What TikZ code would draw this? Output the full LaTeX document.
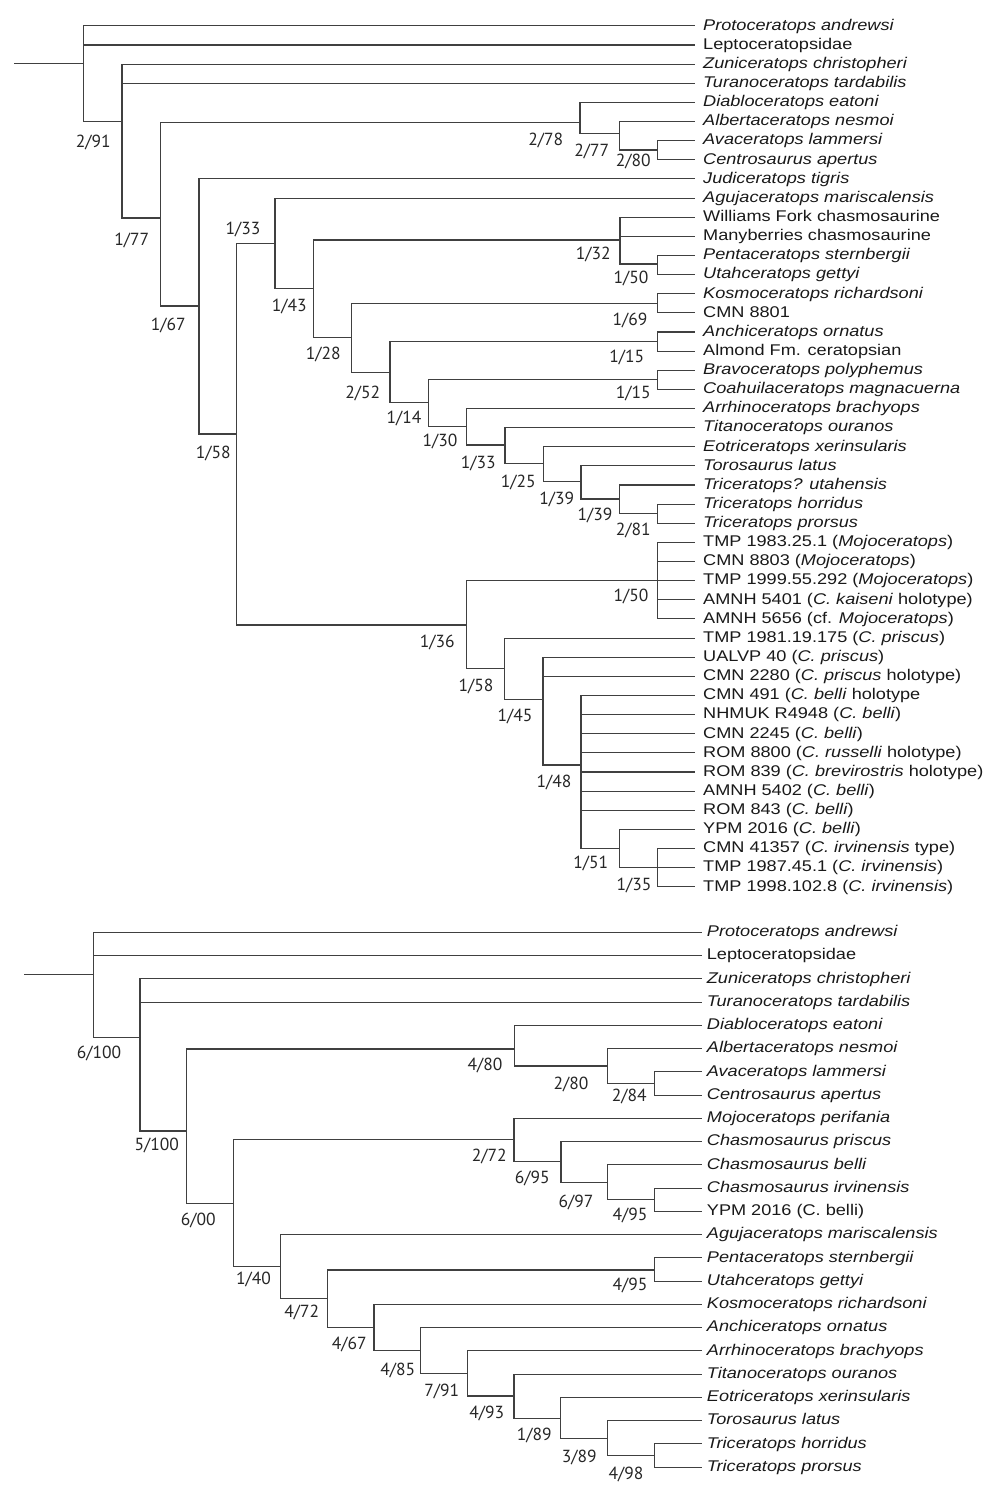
\documentclass[tikz,border=0pt]{standalone}
\usepackage{fontspec}
\newfontfamily\leaffont[FakeStretch=1.17]{Liberation Sans}
\newfontfamily\labfont{PT Sans}
\begin{document}
\begin{tikzpicture}[x=1pt,y=-1pt,
  br/.style={draw=black!75, line width=1.1pt},
  leafA/.style={anchor=west, inner xsep=8pt, inner ysep=0pt, text height=11pt, text depth=2.4pt, text=black!90, font=\leaffont\fontsize{15.5}{18}\selectfont},
  leafB/.style={leafA, inner xsep=5pt},
  sup/.style={inner sep=0pt, text=black!85, font=\labfont\fontsize{17.5}{19}\selectfont}]
\useasboundingbox (0,0) rectangle (1000,1498);

% ---------------- Tree 1 ----------------
\foreach \i/\txt in {
 1/{\textit{Protoceratops andrewsi}}, 2/{Leptoceratopsidae}, 3/{\textit{Zuniceratops christopheri}},
 4/{\textit{Turanoceratops tardabilis}}, 5/{\textit{Diabloceratops eatoni}}, 6/{\textit{Albertaceratops nesmoi}},
 7/{\textit{Avaceratops lammersi}}, 8/{\textit{Centrosaurus apertus}}, 9/{\textit{Judiceratops tigris}},
 10/{\textit{Agujaceratops mariscalensis}}, 11/{Williams Fork chasmosaurine}, 12/{Manyberries chasmosaurine},
 13/{\textit{Pentaceratops sternbergii}}, 14/{\textit{Utahceratops gettyi}}, 15/{\textit{Kosmoceratops richardsoni}},
 16/{CMN 8801}, 17/{\textit{Anchiceratops ornatus}}, 18/{Almond Fm. ceratopsian},
 19/{\textit{Bravoceratops polyphemus}}, 20/{\textit{Coahuilaceratops magnacuerna}}, 21/{\textit{Arrhinoceratops brachyops}},
 22/{\textit{Titanoceratops ouranos}}, 23/{\textit{Eotriceratops xerinsularis}}, 24/{\textit{Torosaurus latus}},
 25/{\textit{Triceratops? utahensis}}, 26/{\textit{Triceratops horridus}}, 27/{\textit{Triceratops prorsus}},
 28/{TMP 1983.25.1 (\textit{Mojoceratops})}, 29/{CMN 8803 (\textit{Mojoceratops})}, 30/{TMP 1999.55.292 (\textit{Mojoceratops})},
 31/{AMNH 5401 (\textit{C. kaiseni} holotype)}, 32/{AMNH 5656 (cf. \textit{Mojoceratops})}, 33/{TMP 1981.19.175 (\textit{C. priscus})},
 34/{UALVP 40 (\textit{C. priscus})}, 35/{CMN 2280 (\textit{C. priscus} holotype)}, 36/{CMN 491 (\textit{C. belli} holotype},
 37/{NHMUK R4948 (\textit{C. belli})}, 38/{CMN 2245 (\textit{C. belli})}, 39/{ROM 8800 (\textit{C. russelli} holotype)},
 40/{ROM 839 (\textit{C. brevirostris} holotype)}, 41/{AMNH 5402 (\textit{C. belli})}, 42/{ROM 843 (\textit{C. belli})},
 43/{YPM 2016 (\textit{C. belli})}, 44/{CMN 41357 (\textit{C. irvinensis} type)}, 45/{TMP 1987.45.1 (\textit{C. irvinensis})},
 46/{TMP 1998.102.8 (\textit{C. irvinensis})}}
  \node[leafA] (a\i) at (695,{25.9+19.13*(\i-1)}) {\txt};

\coordinate (s1) at (14,63.5);
\coordinate (r1) at (83.3,63.5);
\coordinate (n2) at (122,121.7);
\coordinate (n3) at (160.7,218);
\coordinate (n4) at (580,122.3);
\coordinate (n4b) at (619.3,133.3);
\coordinate (n4c) at (657.7,150);
\coordinate (n5) at (199,306);
\coordinate (n6) at (236.7,434);
\coordinate (n7) at (275,243.3);
\coordinate (n8) at (313.3,288.3);
\coordinate (n9) at (620,240);
\coordinate (n9b) at (657.7,264);
\coordinate (n10) at (351.7,337.3);
\coordinate (n11) at (657.7,303.3);
\coordinate (n12) at (390,372.3);
\coordinate (n13) at (657.7,341.7);
\coordinate (n14) at (428.3,402.7);
\coordinate (n15) at (657.7,379.3);
\coordinate (n16) at (466.7,426.7);
\coordinate (n17) at (505,445);
\coordinate (n18) at (543.3,463.3);
\coordinate (n19) at (581,481.7);
\coordinate (n20) at (619.3,499);
\coordinate (n21) at (657.7,513.3);
\coordinate (c1) at (466.7,625);
\coordinate (c2) at (657.7,580.7);
\coordinate (c3) at (504.3,668.3);
\coordinate (c4) at (543,699.3);
\coordinate (c5) at (581,765);
\coordinate (c6) at (619.3,848.3);
\coordinate (c7) at (657.7,867.7);

\draw[br] (s1) -- (r1);
\foreach \p/\c in {r1/n2, n2/n3, n3/n4, n4/n4b, n4b/n4c, n3/n5, n5/n6, n6/n7, n7/n8, n8/n9, n9/n9b,
  n8/n10, n10/n11, n10/n12, n12/n13, n12/n14, n14/n15, n14/n16, n16/n17, n17/n18, n18/n19, n19/n20,
  n20/n21, n6/c1, c1/c2, c1/c3, c3/c4, c4/c5, c5/c6, c6/c7}
  \draw[br] (\p) |- (\c);
\foreach \p/\c in {r1/1, r1/2, n2/3, n2/4, n4/5, n4b/6, n4c/7, n4c/8, n5/9, n7/10, n9/11, n9/12,
  n9b/13, n9b/14, n11/15, n11/16, n13/17, n13/18, n15/19, n15/20, n16/21, n17/22, n18/23, n19/24,
  n20/25, n21/26, n21/27, c2/28, c2/29, c2/30, c2/31, c2/32, c3/33, c4/34, c4/35, c5/36, c5/37,
  c5/38, c5/39, c5/40, c5/41, c5/42, c6/43, c7/44, c7/45, c7/46}
  \draw[br] (\p) |- (a\c.west);

\node[sup] (l-n2) at (93.3,142) {2/91};
\node[sup] (l-n3) at (131.7,240) {1/77};
\node[sup] (l-n5) at (168.3,325) {1/67};
\node[sup] (l-n6) at (213.3,453) {1/58};
\node[sup] (l-n7) at (243,229) {1/33};
\node[sup] (l-n8) at (289.3,306) {1/43};
\node[sup] (l-n10) at (323.3,354.3) {1/28};
\node[sup] (l-n12) at (362.7,393.3) {2/52};
\node[sup] (l-n14) at (404,418.3) {1/14};
\node[sup] (l-n16) at (440,441.7) {1/30};
\node[sup] (l-n17) at (478.3,463.3) {1/33};
\node[sup] (l-n18) at (518.3,482.7) {1/25};
\node[sup] (l-n19) at (556.7,499.3) {1/39};
\node[sup] (l-n20) at (595,515) {1/39};
\node[sup] (l-n21) at (633.3,530) {2/81};
\node[sup] (l-n4) at (545.7,140) {2/78};
\node[sup] (l-n4b) at (591.7,151.7) {2/77};
\node[sup] (l-n4c) at (633.3,161.7) {2/80};
\node[sup] (l-n9) at (593.3,254) {1/32};
\node[sup] (l-n9b) at (631,278.3) {1/50};
\node[sup] (l-n11) at (630,320) {1/69};
\node[sup] (l-n13) at (626.7,357.7) {1/15};
\node[sup] (l-n15) at (633.3,393.3) {1/15};
\node[sup] (l-c1) at (437.3,642.7) {1/36};
\node[sup] (l-c2) at (631,596) {1/50};
\node[sup] (l-c3) at (476,686.7) {1/58};
\node[sup] (l-c4) at (515,716.7) {1/45};
\node[sup] (l-c5) at (554,782.7) {1/48};
\node[sup] (l-c6) at (590.7,863.3) {1/51};
\node[sup] (l-c7) at (634,885) {1/35};

% ---------------- Tree 2 ----------------
\foreach \i/\txt in {
 1/{\textit{Protoceratops andrewsi}}, 2/{Leptoceratopsidae}, 3/{\textit{Zuniceratops christopheri}},
 4/{\textit{Turanoceratops tardabilis}}, 5/{\textit{Diabloceratops eatoni}}, 6/{\textit{Albertaceratops nesmoi}},
 7/{\textit{Avaceratops lammersi}}, 8/{\textit{Centrosaurus apertus}}, 9/{\textit{Mojoceratops perifania}},
 10/{\textit{Chasmosaurus priscus}}, 11/{\textit{Chasmosaurus belli}}, 12/{\textit{Chasmosaurus irvinensis}},
 13/{YPM 2016 (C. belli)}, 14/{\textit{Agujaceratops mariscalensis}}, 15/{\textit{Pentaceratops sternbergii}},
 16/{\textit{Utahceratops gettyi}}, 17/{\textit{Kosmoceratops richardsoni}}, 18/{\textit{Anchiceratops ornatus}},
 19/{\textit{Arrhinoceratops brachyops}}, 20/{\textit{Titanoceratops ouranos}}, 21/{\textit{Eotriceratops xerinsularis}},
 22/{\textit{Torosaurus latus}}, 23/{\textit{Triceratops horridus}}, 24/{\textit{Triceratops prorsus}}}
  \node[leafB] (b\i) at (701.7,{932.3+23.25*(\i-1)}) {\txt};

\coordinate (s2) at (24,974.3);
\coordinate (r2) at (93.3,974.3);
\coordinate (m2) at (140,1037.3);
\coordinate (m3) at (186.7,1131);
\coordinate (m4) at (514.3,1049);
\coordinate (m4b) at (607.3,1066);
\coordinate (m4c) at (654.3,1083.3);
\coordinate (m5) at (233.3,1203.3);
\coordinate (m6) at (514,1139.3);
\coordinate (m6b) at (561,1161.7);
\coordinate (m6c) at (607.3,1182.3);
\coordinate (m6d) at (654.3,1199.3);
\coordinate (m7) at (280.7,1266.7);
\coordinate (m8) at (327.3,1298.3);
\coordinate (m8b) at (654.3,1270);
\coordinate (m9) at (374,1327.3);
\coordinate (m10) at (420.7,1350.7);
\coordinate (m11) at (467.3,1373.3);
\coordinate (m12) at (514,1396);
\coordinate (m13) at (560.7,1418.3);
\coordinate (m14) at (607.3,1438.3);
\coordinate (m15) at (654.3,1455.7);

\draw[br] (s2) -- (r2);
\foreach \p/\c in {r2/m2, m2/m3, m3/m4, m4/m4b, m4b/m4c, m3/m5, m5/m6, m6/m6b, m6b/m6c, m6c/m6d,
  m5/m7, m7/m8, m8/m8b, m8/m9, m9/m10, m10/m11, m11/m12, m12/m13, m13/m14, m14/m15}
  \draw[br] (\p) |- (\c);
\foreach \p/\c in {r2/1, r2/2, m2/3, m2/4, m4/5, m4b/6, m4c/7, m4c/8, m6/9, m6b/10, m6c/11, m6d/12,
  m6d/13, m7/14, m8b/15, m8b/16, m9/17, m10/18, m11/19, m12/20, m13/21, m14/22, m15/23, m15/24}
  \draw[br] (\p) |- (b\c.west);

\node[sup] (l-m2) at (99,1053.3) {6/100};
\node[sup] (l-m3) at (156.7,1145) {5/100};
\node[sup] (l-m5) at (198.3,1220) {6/00};
\node[sup] (l-m4) at (485,1065.7) {4/80};
\node[sup] (l-m4b) at (571,1084) {2/80};
\node[sup] (l-m4c) at (629.3,1096.7) {2/84};
\node[sup] (l-m6) at (489.3,1156) {2/72};
\node[sup] (l-m6b) at (532.3,1178.3) {6/95};
\node[sup] (l-m6c) at (576,1202.7) {6/97};
\node[sup] (l-m6d) at (630,1215) {4/95};
\node[sup] (l-m7) at (253.5,1279) {1/40};
\node[sup] (l-m8) at (301.7,1312.7) {4/72};
\node[sup] (l-m8b) at (630,1285.7) {4/95};
\node[sup] (l-m9) at (349.3,1344) {4/67};
\node[sup] (l-m10) at (397.7,1370) {4/85};
\node[sup] (l-m11) at (441.7,1391.7) {7/91};
\node[sup] (l-m12) at (486.7,1413.3) {4/93};
\node[sup] (l-m13) at (534.3,1435) {1/89};
\node[sup] (l-m14) at (579.3,1457.7) {3/89};
\node[sup] (l-m15) at (626,1474) {4/98};
\end{tikzpicture}
\end{document}
